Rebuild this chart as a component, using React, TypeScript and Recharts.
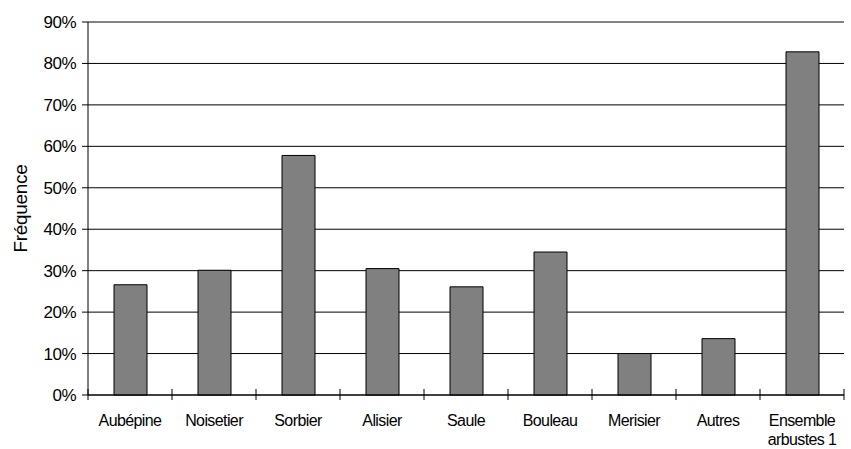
import React from "react";
import {
  BarChart,
  Bar,
  XAxis,
  YAxis,
  CartesianGrid,
  ReferenceLine,
} from "recharts";

const categories = [
  "Aubépine",
  "Noisetier",
  "Sorbier",
  "Alisier",
  "Saule",
  "Bouleau",
  "Merisier",
  "Autres",
  "Ensemble\narbustes 1",
];
const frequence = [26.6, 30.1, 57.8, 30.5, 26.1, 34.5, 10.0, 13.6, 82.8];
const yTicks = [0, 10, 20, 30, 40, 50, 60, 70, 80, 90];

const data = categories.map((name, i) => ({ name, value: frequence[i] }));

const W = 851;
const H = 449;
const LEFT = 88;
const RIGHT = 7;
const BAND = (W - LEFT - RIGHT) / categories.length;
const FONT = "'Liberation Sans', Arial, sans-serif";

// category labels + boundary tick marks (between categories, like the original)
const XTick = ({ x, y, payload, index }: any) => {
  const lines = String(payload.value).split("\n");
  const last = index === categories.length - 1;
  const axisY = y - 8;
  return (
    <g>
      <line x1={x - BAND / 2} x2={x - BAND / 2} y1={axisY - 6} y2={axisY + 5} stroke="#000" />
      {last && (
        <line x1={x + BAND / 2} x2={x + BAND / 2} y1={axisY - 6} y2={axisY + 5} stroke="#000" />
      )}
      {lines.map((l, i) => (
        <text
          key={i}
          x={x}
          y={y + 23 + i * 19}
          textAnchor="middle"
          fontSize={16}
          letterSpacing={-0.6}
          fontFamily={FONT}
          fill="#000"
        >
          {l}
        </text>
      ))}
    </g>
  );
};

export default function App() {
  return (
    <div style={{ position: "absolute", left: 0, top: 0, background: "#fff" }}>
      <BarChart
        width={W}
        height={H}
        data={data}
        margin={{ top: 22, right: RIGHT, left: 0, bottom: 0 }}
        barCategoryGap={0}
      >
        <CartesianGrid horizontal vertical={false} stroke="#000" />
        <XAxis
          dataKey="name"
          height={54}
          interval={0}
          axisLine={{ stroke: "#000" }}
          tickLine={false}
          tick={<XTick />}
        />
        <YAxis
          width={LEFT}
          domain={[0, 90]}
          ticks={yTicks}
          interval={0}
          tickFormatter={(v) => `${v}%`}
          axisLine={{ stroke: "#000" }}
          tickLine={{ stroke: "#000" }}
          tickSize={6}
          tickMargin={6}
          tick={{ fill: "#000", fontSize: 17, fontFamily: FONT, letterSpacing: -0.5 }}
          label={{
            value: "Fréquence",
            angle: -90,
            position: "insideLeft",
            offset: 20,
            style: {
              fill: "#000",
              fontSize: 19,
              fontFamily: FONT,
              letterSpacing: -0.3,
              textAnchor: "middle",
            },
          }}
        />
        <YAxis
          yAxisId="right"
          orientation="right"
          width={0}
          domain={[0, 90]}
          tick={false}
          tickLine={false}
          axisLine={{ stroke: "#999" }}
        />
        <ReferenceLine y={90} stroke="#888" />
        <Bar
          dataKey="value"
          fill="#808080"
          stroke="#000"
          strokeWidth={1}
          barSize={33}
          isAnimationActive={false}
        />
      </BarChart>
    </div>
  );
}
